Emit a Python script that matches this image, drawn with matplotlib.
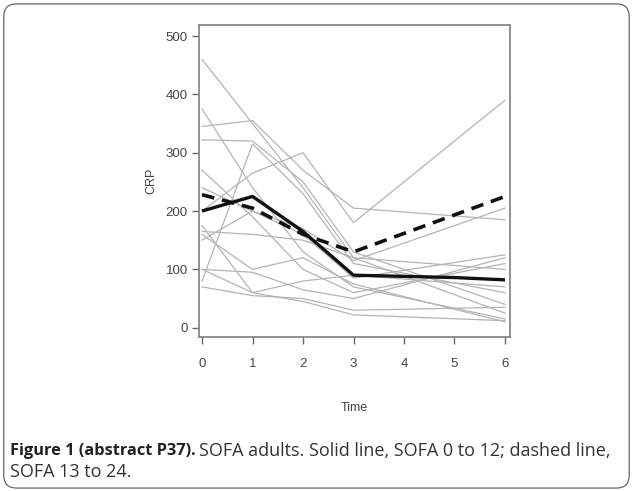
import matplotlib
matplotlib.use("Agg")
import matplotlib.pyplot as plt
from matplotlib.patches import FancyBboxPatch

plt.rcParams['font.family'] = ['Liberation Sans', 'DejaVu Sans']

# === Data ===
times = [0, 1, 2, 3, 6]
patients = [
    [460, 350, 240, 120, 25],
    [375, 240, 130, 70, 15],
    [345, 355, 270, 205, 185],
    [322, 320, 250, 130, 40],
    [270, 190, 100, 60, 110],
    [80, 315, 230, 110, 60],
    [200, 265, 300, 180, 390],
    [240, 200, 160, 85, 125],
    [165, 160, 150, 120, 100],
    [160, 100, 120, 75, 10],
    [100, 95, 65, 50, 120],
    [70, 55, 50, 30, 35],
    [175, 60, 45, 22, 12],
    [150, 200, 170, 115, 205],
    [100, 60, 80, 90, 70],
]
solid_t = [0, 1, 2, 3, 4, 5, 6]
solid_crp = [200, 225, 165, 90, 88, 86, 82]     # SOFA 0 to 12
dashed_t = [0, 1, 2, 3, 6]
dashed_crp = [228, 205, 160, 130, 225]          # SOFA 13 to 24

x_ticks = [0, 1, 2, 3, 4, 5, 6]
y_ticks = [0, 100, 200, 300, 400, 500]

# === Figure ===
fig = plt.figure(figsize=(6.33, 4.91), dpi=100)

# rounded frame around figure + caption
box = FancyBboxPatch((0.006, 0.006), 0.988, 0.986, boxstyle="round,pad=0,rounding_size=0.02",
                     transform=fig.transFigure, facecolor='none', edgecolor='#555555',
                     linewidth=0.8, mutation_aspect=633 / 491, zorder=-1)
fig.patches.append(box)

ax = fig.add_axes([0.3144, 0.3136, 0.4913, 0.6355])
for crp in patients:
    ax.plot(times, crp, color='#b4b4b4', linewidth=0.9)
ax.plot(solid_t, solid_crp, color='#111111', linewidth=2.4, solid_capstyle='butt')
ax.plot(dashed_t, dashed_crp, color='#111111', linewidth=2.6, dashes=(3.5, 2.2))

ax.set_xlim(-0.06, 6.1)
ax.set_ylim(-16, 519)
ax.set_xticks(x_ticks)
ax.set_yticks(y_ticks)
for s in ax.spines.values():
    s.set_color('#888888')
    s.set_linewidth(1.3)
ax.tick_params(axis='both', colors='#666666', labelcolor='#444444', labelsize=9.5, length=5, width=1)
ax.tick_params(axis='x', pad=10)
ax.tick_params(axis='y', pad=3)
ax.set_xlabel('Time', fontsize=9, color='#444444', labelpad=23)
ax.set_ylabel('CRP', fontsize=9, color='#444444', labelpad=6)

# === Caption ===
cap_font = ['Open Sans', 'DejaVu Sans']
x0 = 10 / 633
t1 = fig.text(x0, 1 - 451 / 491, 'Figure 1 (abstract P37).', fontsize=11.8, fontweight='bold',
              va='center', ha='left', color='#222222', family=cap_font)
fig.canvas.draw()
bb = t1.get_window_extent()
fig.text((bb.x1 + 3) / 633, 1 - 451 / 491,
         'SOFA adults. Solid line, SOFA 0 to 12; dashed line,', fontsize=13,
         va='center', ha='left', color='#333333', family=cap_font)
fig.text(x0, 1 - 472 / 491, 'SOFA 13 to 24.', fontsize=13,
         va='center', ha='left', color='#333333', family=cap_font)

fig.savefig('out.png', dpi=100)
